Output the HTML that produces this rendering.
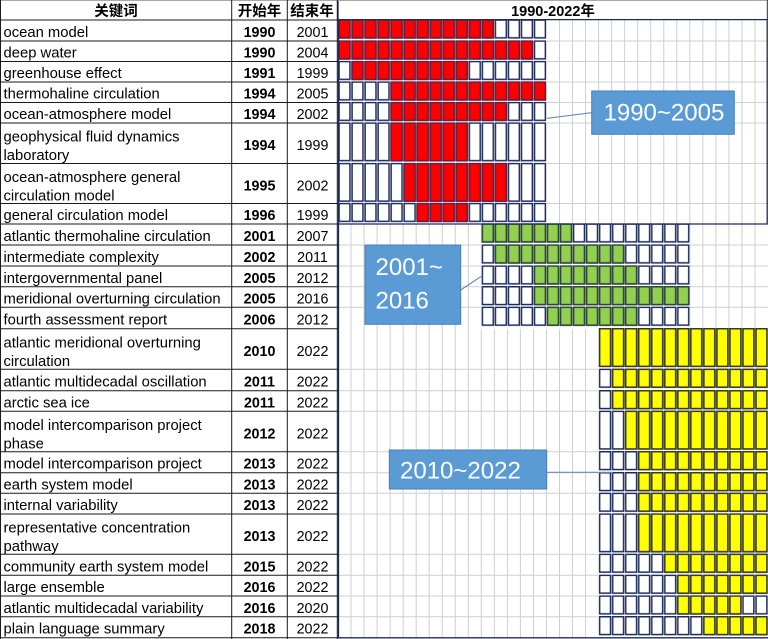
<!DOCTYPE html>
<html><head><meta charset="utf-8"><style>
html,body{margin:0;padding:0;background:#fff;}
svg{display:block;}
.kw{font-family:"Liberation Sans","Noto Sans CJK SC",sans-serif;font-size:14.8px;fill:#000;}
.nb{font-family:"Liberation Sans",sans-serif;font-size:14.3px;font-weight:bold;fill:#000;text-anchor:middle;}
.nr{font-family:"Liberation Sans",sans-serif;font-size:14.3px;fill:#000;text-anchor:middle;}
.hd{font-family:"Liberation Sans","Noto Sans CJK SC",sans-serif;font-size:14.5px;font-weight:bold;fill:#000;text-anchor:middle;}
.co{font-family:"Liberation Sans",sans-serif;font-size:24px;fill:#fff;}
</style></head><body>
<svg width="768" height="639" viewBox="0 0 768 639" xmlns="http://www.w3.org/2000/svg">
<defs>
<pattern id="w1" patternUnits="userSpaceOnUse" x="338" y="0" width="13.03" height="60"><rect x="1.05" y="0.75" width="10.9" height="17.8" fill="#fff" stroke="#1c2b5a" stroke-width="1.5"/></pattern>
<pattern id="w2" patternUnits="userSpaceOnUse" x="338" y="0" width="13.03" height="60"><rect x="1.05" y="0.75" width="10.9" height="37.6" fill="#fff" stroke="#1c2b5a" stroke-width="1.5"/></pattern>
<pattern id="r1" patternUnits="userSpaceOnUse" x="338" y="0" width="13.03" height="60"><rect x="1.05" y="0.75" width="10.9" height="17.8" fill="#ff0000" stroke="#6a1c3c" stroke-width="1.5"/></pattern>
<pattern id="r2" patternUnits="userSpaceOnUse" x="338" y="0" width="13.03" height="60"><rect x="1.05" y="0.75" width="10.9" height="37.6" fill="#ff0000" stroke="#6a1c3c" stroke-width="1.5"/></pattern>
<pattern id="g1" patternUnits="userSpaceOnUse" x="338" y="0" width="13.03" height="60"><rect x="1.05" y="0.75" width="10.9" height="17.8" fill="#92d050" stroke="#2d4636" stroke-width="1.5"/></pattern>
<pattern id="y1" patternUnits="userSpaceOnUse" x="338" y="0" width="13.03" height="60"><rect x="1.05" y="0.75" width="10.9" height="17.8" fill="#ffff00" stroke="#3a3a20" stroke-width="1.5"/></pattern>
<pattern id="y2" patternUnits="userSpaceOnUse" x="338" y="0" width="13.03" height="60"><rect x="1.05" y="0.75" width="10.9" height="37.6" fill="#ffff00" stroke="#3a3a20" stroke-width="1.5"/></pattern>
</defs>
<rect x="0" y="0" width="768" height="639" fill="#fff"/>

<!-- chart grid -->
<g stroke="#cfcfcf" stroke-width="1">
<path d="M351.03 20V638M364.06 20V638M377.09 20V638M390.12 20V638M403.15 20V638M416.18 20V638M429.21 20V638M442.24 20V638M455.27 20V638M468.3 20V638M481.33 20V638M494.36 20V638M507.39 20V638M520.42 20V638M533.45 20V638M546.48 20V638M559.51 20V638M572.54 20V638M585.57 20V638M598.6 20V638M611.63 20V638M624.66 20V638M637.69 20V638M650.72 20V638M663.75 20V638M676.78 20V638M689.81 20V638M702.84 20V638M715.87 20V638M728.9 20V638M741.93 20V638M754.96 20V638"/>
<path d="M338 41H768M338 61.5H768M338 82H768M338 102.5H768M338 123H768M338 163.5H768M338 203.5H768M338 245H768M338 266H768M338 286.7H768M338 307.3H768M338 369.3H768M338 390.7H768M338 411.3H768M338 451.7H768M338 472.7H768M338 493.3H768M338 514H768M338 554.3H768M338 575.3H768M338 596H768M338 616.7H768"/>
</g>

<!-- group backdrops -->
<rect x="338" y="20" width="209" height="204" fill="#fff"/>
<rect x="481" y="224" width="209" height="105" fill="#fff"/>
<rect x="598" y="329" width="170" height="309" fill="#fff"/>

<!-- group 1 -->
<g transform="translate(0,19.3)"><rect x="338" y="0" width="208.48" height="21" fill="url(#w1)"/><rect x="338" y="0" width="156.36" height="21" fill="url(#r1)"/></g>
<g transform="translate(0,40.3)"><rect x="338" y="0" width="208.48" height="21" fill="url(#w1)"/><rect x="338" y="0" width="195.45" height="21" fill="url(#r1)"/></g>
<g transform="translate(0,60.8)"><rect x="338" y="0" width="208.48" height="21" fill="url(#w1)"/><rect x="351.03" y="0" width="117.27" height="21" fill="url(#r1)"/></g>
<g transform="translate(0,81.3)"><rect x="338" y="0" width="208.48" height="21" fill="url(#w1)"/><rect x="390.12" y="0" width="156.36" height="21" fill="url(#r1)"/></g>
<g transform="translate(0,101.8)"><rect x="338" y="0" width="208.48" height="21" fill="url(#w1)"/><rect x="390.12" y="0" width="117.27" height="21" fill="url(#r1)"/></g>
<g transform="translate(0,122.3)"><rect x="338" y="0" width="208.48" height="41" fill="url(#w2)"/><rect x="390.12" y="0" width="78.18" height="41" fill="url(#r2)"/></g>
<g transform="translate(0,162.8)"><rect x="338" y="0" width="208.48" height="41" fill="url(#w2)"/><rect x="403.15" y="0" width="104.24" height="41" fill="url(#r2)"/></g>
<g transform="translate(0,202.8)"><rect x="338" y="0" width="208.48" height="21" fill="url(#w1)"/><rect x="416.18" y="0" width="52.12" height="21" fill="url(#r1)"/></g>

<!-- group 2 -->
<g transform="translate(0,223.3)"><rect x="481.33" y="0" width="208.48" height="21" fill="url(#w1)"/><rect x="481.33" y="0" width="91.21" height="21" fill="url(#g1)"/></g>
<g transform="translate(0,244.3)"><rect x="481.33" y="0" width="208.48" height="21" fill="url(#w1)"/><rect x="494.36" y="0" width="130.3" height="21" fill="url(#g1)"/></g>
<g transform="translate(0,265.3)"><rect x="481.33" y="0" width="208.48" height="21" fill="url(#w1)"/><rect x="533.45" y="0" width="104.24" height="21" fill="url(#g1)"/></g>
<g transform="translate(0,286)"><rect x="481.33" y="0" width="208.48" height="21" fill="url(#w1)"/><rect x="533.45" y="0" width="156.36" height="21" fill="url(#g1)"/></g>
<g transform="translate(0,306.6)"><rect x="481.33" y="0" width="208.48" height="21" fill="url(#w1)"/><rect x="546.48" y="0" width="91.21" height="21" fill="url(#g1)"/></g>

<!-- group 3 -->
<g transform="translate(0,328)"><rect x="598.6" y="0" width="169.39" height="41" fill="url(#w2)"/><rect x="598.6" y="0" width="169.39" height="41" fill="url(#y2)"/></g>
<g transform="translate(0,368.6)"><rect x="598.6" y="0" width="169.39" height="21" fill="url(#w1)"/><rect x="611.63" y="0" width="156.36" height="21" fill="url(#y1)"/></g>
<g transform="translate(0,390)"><rect x="598.6" y="0" width="169.39" height="21" fill="url(#w1)"/><rect x="611.63" y="0" width="156.36" height="21" fill="url(#y1)"/></g>
<g transform="translate(0,410.6)"><rect x="598.6" y="0" width="169.39" height="41" fill="url(#w2)"/><rect x="624.66" y="0" width="143.33" height="41" fill="url(#y2)"/></g>
<g transform="translate(0,451)"><rect x="598.6" y="0" width="169.39" height="21" fill="url(#w1)"/><rect x="637.69" y="0" width="130.3" height="21" fill="url(#y1)"/></g>
<g transform="translate(0,472)"><rect x="598.6" y="0" width="169.39" height="21" fill="url(#w1)"/><rect x="637.69" y="0" width="130.3" height="21" fill="url(#y1)"/></g>
<g transform="translate(0,492.6)"><rect x="598.6" y="0" width="169.39" height="21" fill="url(#w1)"/><rect x="637.69" y="0" width="130.3" height="21" fill="url(#y1)"/></g>
<g transform="translate(0,513.3)"><rect x="598.6" y="0" width="169.39" height="41" fill="url(#w2)"/><rect x="637.69" y="0" width="130.3" height="41" fill="url(#y2)"/></g>
<g transform="translate(0,553.6)"><rect x="598.6" y="0" width="169.39" height="21" fill="url(#w1)"/><rect x="663.75" y="0" width="104.24" height="21" fill="url(#y1)"/></g>
<g transform="translate(0,574.6)"><rect x="598.6" y="0" width="169.39" height="21" fill="url(#w1)"/><rect x="676.78" y="0" width="91.21" height="21" fill="url(#y1)"/></g>
<g transform="translate(0,595.3)"><rect x="598.6" y="0" width="169.39" height="21" fill="url(#w1)"/><rect x="676.78" y="0" width="65.15" height="21" fill="url(#y1)"/></g>
<g transform="translate(0,616)"><rect x="598.6" y="0" width="169.39" height="21" fill="url(#w1)"/><rect x="702.84" y="0" width="65.15" height="21" fill="url(#y1)"/></g>

<!-- navy outlines -->
<g stroke="#1c2b5a" stroke-width="1.3" fill="none">
<path d="M338.5 19.5V637.8H768"/>
<path d="M338 19.6H767.2V224H338"/>
<path d="M338 1V19.6"/>
</g>

<!-- left table lines -->
<g stroke="#1a1a1a" stroke-width="1">
<path d="M0 0.5H768" stroke="#a8a8a8"/>
<path d="M0.5 0V639M231.7 0V639M287.3 0V639M337.3 0V639"/>
<path d="M0 20H338M0 41H338M0 61.5H338M0 82H338M0 102.5H338M0 123H338M0 163.5H338M0 203.5H338M0 224H338M0 245H338M0 266H338M0 286.7H338M0 307.3H338M0 328.7H338M0 369.3H338M0 390.7H338M0 411.3H338M0 451.7H338M0 472.7H338M0 493.3H338M0 514H338M0 554.3H338M0 575.3H338M0 596H338M0 616.7H338M0 637.7H338"/>
<path d="M767.3 0V20" stroke="#1c2b5a"/>
</g>

<!-- headers -->
<text class="hd" x="116" y="16">关键词</text>
<text class="hd" x="259.5" y="16">开始年</text>
<text class="hd" x="312" y="16">结束年</text>
<text class="hd" x="553" y="16">1990-2022年</text>

<!-- keywords -->
<g class="kw">
<text class="kw" x="3.5" y="37">ocean model</text>
<text class="kw" x="3.5" y="57.7">deep water</text>
<text class="kw" x="3.5" y="78.2">greenhouse effect</text>
<text class="kw" x="3.5" y="98.7">thermohaline circulation</text>
<text class="kw" x="3.5" y="119.2">ocean-atmosphere model</text>
<text class="kw" x="3.5" y="141.5">geophysical fluid dynamics</text>
<text class="kw" x="3.5" y="160">laboratory</text>
<text class="kw" x="3.5" y="182">ocean-atmosphere general</text>
<text class="kw" x="3.5" y="200.5">circulation model</text>
<text class="kw" x="3.5" y="220.2">general circulation model</text>
<text class="kw" x="3.5" y="241">atlantic thermohaline circulation</text>
<text class="kw" x="3.5" y="262">intermediate complexity</text>
<text class="kw" x="3.5" y="282.8">intergovernmental panel</text>
<text class="kw" x="3.5" y="303.5">meridional overturning circulation</text>
<text class="kw" x="3.5" y="324.5">fourth assessment report</text>
<text class="kw" x="3.5" y="347.4">atlantic meridional overturning</text>
<text class="kw" x="3.5" y="366">circulation</text>
<text class="kw" x="3.5" y="386.5">atlantic multidecadal oscillation</text>
<text class="kw" x="3.5" y="407.5">arctic sea ice</text>
<text class="kw" x="3.5" y="430">model intercomparison project</text>
<text class="kw" x="3.5" y="448.5">phase</text>
<text class="kw" x="3.5" y="468.7">model intercomparison project</text>
<text class="kw" x="3.5" y="489.5">earth system model</text>
<text class="kw" x="3.5" y="510.1">internal variability</text>
<text class="kw" x="3.5" y="532.7">representative concentration</text>
<text class="kw" x="3.5" y="551.2">pathway</text>
<text class="kw" x="3.5" y="571.3">community earth system model</text>
<text class="kw" x="3.5" y="592.1">large ensemble</text>
<text class="kw" x="3.5" y="612.8">atlantic multidecadal variability</text>
<text class="kw" x="3.5" y="633.7">plain language summary</text>
</g>

<!-- start years -->
<text class="nb" x="259.5" y="37">1990</text>
<text class="nb" x="259.5" y="57.7">1990</text>
<text class="nb" x="259.5" y="78.2">1991</text>
<text class="nb" x="259.5" y="98.7">1994</text>
<text class="nb" x="259.5" y="119.2">1994</text>
<text class="nb" x="259.5" y="150.2">1994</text>
<text class="nb" x="259.5" y="190.5">1995</text>
<text class="nb" x="259.5" y="220.2">1996</text>
<text class="nb" x="259.5" y="241">2001</text>
<text class="nb" x="259.5" y="262">2002</text>
<text class="nb" x="259.5" y="282.8">2005</text>
<text class="nb" x="259.5" y="303.5">2005</text>
<text class="nb" x="259.5" y="324.5">2006</text>
<text class="nb" x="259.5" y="356">2010</text>
<text class="nb" x="259.5" y="386.5">2011</text>
<text class="nb" x="259.5" y="407.5">2011</text>
<text class="nb" x="259.5" y="438.5">2012</text>
<text class="nb" x="259.5" y="468.7">2013</text>
<text class="nb" x="259.5" y="489.5">2013</text>
<text class="nb" x="259.5" y="510.1">2013</text>
<text class="nb" x="259.5" y="541.1">2013</text>
<text class="nb" x="259.5" y="571.3">2015</text>
<text class="nb" x="259.5" y="592.1">2016</text>
<text class="nb" x="259.5" y="612.8">2016</text>
<text class="nb" x="259.5" y="633.7">2018</text>

<!-- end years -->
<text class="nr" x="312.5" y="37">2001</text>
<text class="nr" x="312.5" y="57.7">2004</text>
<text class="nr" x="312.5" y="78.2">1999</text>
<text class="nr" x="312.5" y="98.7">2005</text>
<text class="nr" x="312.5" y="119.2">2002</text>
<text class="nr" x="312.5" y="150.2">1999</text>
<text class="nr" x="312.5" y="190.5">2002</text>
<text class="nr" x="312.5" y="220.2">1999</text>
<text class="nr" x="312.5" y="241">2007</text>
<text class="nr" x="312.5" y="262">2011</text>
<text class="nr" x="312.5" y="282.8">2012</text>
<text class="nr" x="312.5" y="303.5">2016</text>
<text class="nr" x="312.5" y="324.5">2012</text>
<text class="nr" x="312.5" y="356">2022</text>
<text class="nr" x="312.5" y="386.5">2022</text>
<text class="nr" x="312.5" y="407.5">2022</text>
<text class="nr" x="312.5" y="438.5">2022</text>
<text class="nr" x="312.5" y="468.7">2022</text>
<text class="nr" x="312.5" y="489.5">2022</text>
<text class="nr" x="312.5" y="510.1">2022</text>
<text class="nr" x="312.5" y="541.1">2022</text>
<text class="nr" x="312.5" y="571.3">2022</text>
<text class="nr" x="312.5" y="592.1">2022</text>
<text class="nr" x="312.5" y="612.8">2020</text>
<text class="nr" x="312.5" y="633.7">2022</text>

<!-- callouts -->
<g stroke="#6f8cb4" stroke-width="1.2" fill="none">
<path d="M547 118.3L591.7 112.7"/>
<path d="M460.7 290L481 276.5"/>
<path d="M546.7 472.3H613"/>
</g>
<rect x="591.7" y="91" width="142.6" height="43.3" fill="#5b9bd5" stroke="#4a7fb5" stroke-width="1"/>
<text class="co" x="603.5" y="120.7">1990~2005</text>
<rect x="365" y="245" width="95.7" height="79.3" fill="#5b9bd5" stroke="#4a7fb5" stroke-width="1"/>
<text class="co" x="375.5" y="275">2001~</text>
<text class="co" x="375.5" y="308.5">2016</text>
<rect x="389.3" y="450" width="157.4" height="39" fill="#5b9bd5" stroke="#4a7fb5" stroke-width="1"/>
<text class="co" x="400" y="478.7">2010~2022</text>
</svg>
</body></html>
